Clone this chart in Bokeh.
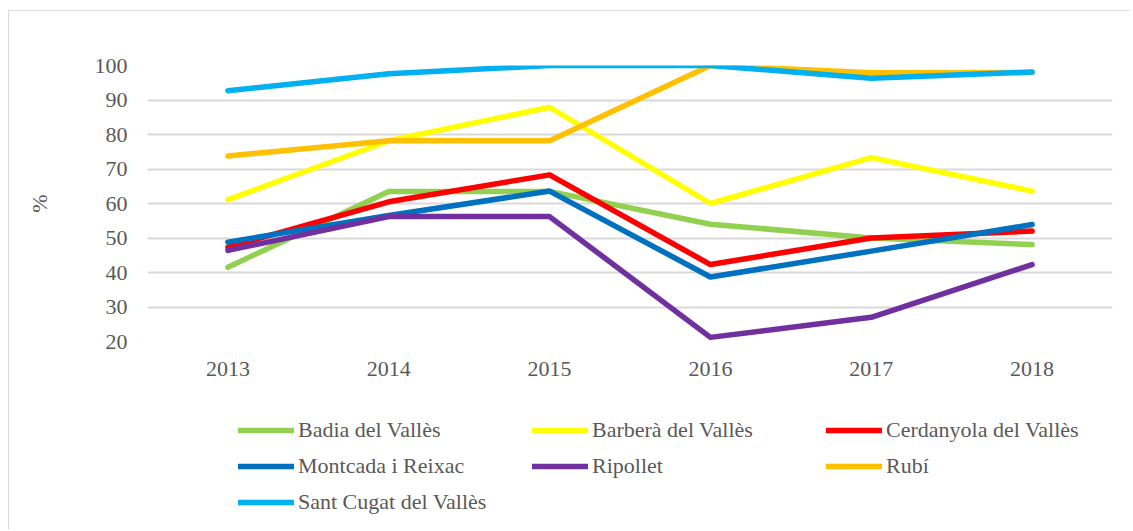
from bokeh.plotting import figure
from bokeh.layouts import column
from bokeh.models import FixedTicker, Legend, LegendItem, Range1d
from bokeh.embed import file_html
from bokeh.resources import INLINE

years = [2013, 2014, 2015, 2016, 2017, 2018]
badia = [41.5, 63.5, 63.5, 54.0, 50.0, 48.1]
barbera = [61.1, 78.2, 87.9, 60.0, 73.3, 63.6]
cerdanyola = [47.3, 60.5, 68.3, 42.3, 50.0, 52.0]
montcada = [48.8, 56.5, 63.6, 38.7, 46.2, 53.9]
ripollet = [46.4, 56.2, 56.2, 21.2, 27.0, 42.3]
rubi = [73.8, 78.2, 78.2, 100.0, 97.9, 98.0]
sant_cugat = [92.7, 97.6, 100.0, 100.0, 96.3, 98.1]

names = ["Badia del Vallès", "Barberà del Vallès", "Cerdanyola del Vallès",
         "Montcada i Reixac", "Ripollet", "Rubí", "Sant Cugat del Vallès"]
series = [badia, barbera, cerdanyola, montcada, ripollet, rubi, sant_cugat]
colors = ["#92d050", "#ffff00", "#ff0000", "#0070c0", "#7030a0", "#ffc000", "#00b0f0"]
y_ticks = [20, 30, 40, 50, 60, 70, 80, 90, 100]

FONT = "'Liberation Serif', serif"
FSIZE = "22px"
GREY = "#595959"
W = 1120

p = figure(width=W, height=389, output_backend="svg", toolbar_location=None,
           x_range=Range1d(2012.5, 2018.5), y_range=Range1d(20, 100),
           min_border_left=138, min_border_right=17, min_border_top=54,
           min_border_bottom=59)
p.outline_line_color = None

for name, vals, col in zip(names, series, colors):
    p.line(years, vals, line_color=col, line_width=5.5, line_cap="round", line_join="round")

p.xaxis.ticker = FixedTicker(ticks=years)
p.yaxis.ticker = FixedTicker(ticks=y_ticks)
for ax in [p.xaxis[0], p.yaxis[0]]:
    ax.axis_line_color = None
    ax.major_tick_line_color = None
    ax.minor_tick_line_color = None
    ax.major_label_text_font = FONT
    ax.major_label_text_font_size = FSIZE
    ax.major_label_text_color = GREY
p.xaxis.major_label_standoff = 14
p.yaxis.major_label_standoff = 14
p.yaxis.axis_label = "%"
p.yaxis.axis_label_text_font = FONT
p.yaxis.axis_label_text_font_size = FSIZE
p.yaxis.axis_label_text_font_style = "normal"
p.yaxis.axis_label_text_color = GREY
p.yaxis.axis_label_standoff = 40

p.xgrid.grid_line_color = None
p.ygrid.grid_line_color = "#d9d9d9"
p.ygrid.grid_line_width = 2

# legend-holder figure below the chart (same series, outside its visible range)
q = figure(width=W, height=129, output_backend="svg", toolbar_location=None,
           x_range=Range1d(0, 1), y_range=Range1d(0, 1),
           min_border=0, min_border_left=0, min_border_right=0,
           min_border_top=0, min_border_bottom=0)
q.outline_line_color = None
q.axis.visible = False
q.grid.visible = False
items = []
for name, vals, col in zip(names, series, colors):
    r = q.line(years, vals, line_color=col, line_width=5.5, line_cap="round")
    items.append(LegendItem(label=name, renderers=[r]))

legend = Legend(items=items, orientation="horizontal", ncols=3,
                location=(91, 14), padding=0, margin=0, spacing=10,
                glyph_width=56, glyph_height=24, label_height=24,
                label_width=224, label_standoff=4,
                label_text_font=FONT, label_text_font_size=FSIZE,
                label_text_color=GREY, border_line_color=None,
                background_fill_alpha=0)
q.add_layout(legend, "center")

layout = column(p, q, spacing=0)
layout.styles = {"margin-left": "8px", "margin-top": "10px",
                 "border-left": "1px solid #d9d9d9", "border-top": "1px solid #d9d9d9"}

open("out.html", "w").write(file_html(layout, INLINE))
